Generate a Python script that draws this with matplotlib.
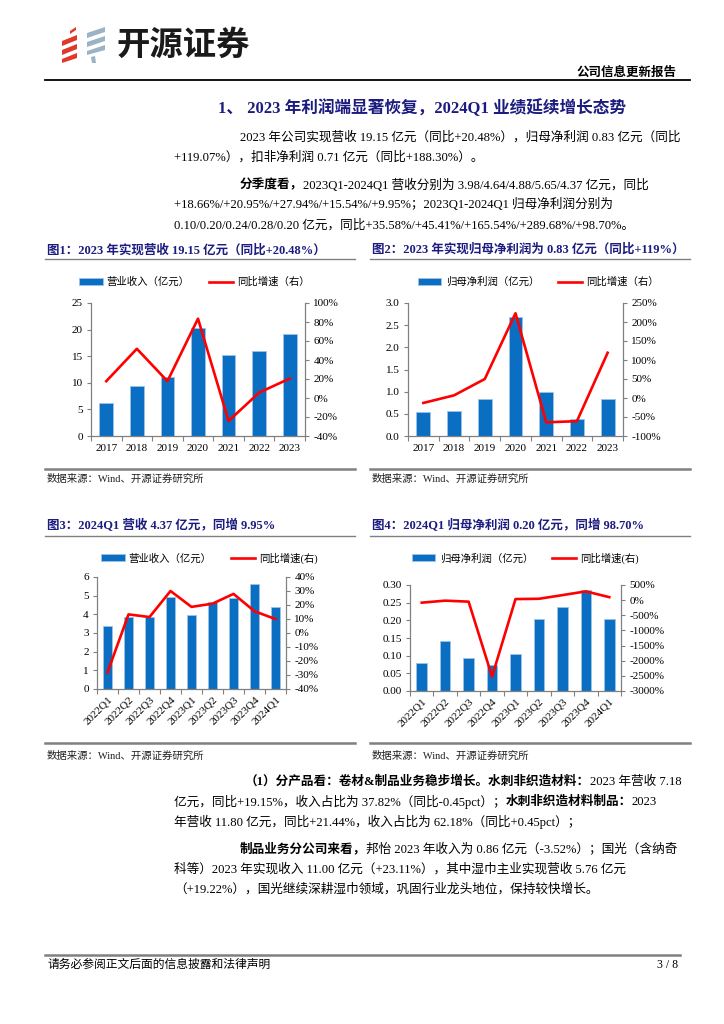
import numpy as np
import matplotlib
matplotlib.use("Agg")
import matplotlib.pyplot as plt
from matplotlib.lines import Line2D
from matplotlib.patches import Patch, Polygon

plt.rcParams['font.family'] = ['Liberation Serif', 'Noto Sans CJK SC']
plt.rcParams['axes.unicode_minus'] = False

# ---------------- data ----------------
years = ['2017', '2018', '2019', '2020', '2021', '2022', '2023']
rev_annual = [6.28, 9.49, 11.06, 20.3, 15.3, 15.95, 19.15]
rev_annual_yoy = [17.7, 51.8, 17.7, 83.5, -24.2, 5.7, 20.48]
np_annual = [0.535, 0.573, 0.844, 2.68, 0.987, 0.39, 0.83]
np_annual_yoy = [-13, 7, 50, 223, -64, -61, 119]

quarters = ['2022Q1', '2022Q2', '2022Q3', '2022Q4', '2023Q1',
            '2023Q2', '2023Q3', '2023Q4', '2024Q1']
rev_q = [3.37, 3.87, 3.84, 4.93, 3.98, 4.64, 4.88, 5.65, 4.37]
rev_q_yoy = [-28.2, 13.3, 11.4, 30.0, 18.66, 20.95, 27.94, 15.54, 9.95]
np_q = [0.078, 0.141, 0.092, 0.075, 0.104, 0.203, 0.238, 0.285, 0.205]
np_q_yoy = [-83, -17, -50, -2525, 35.58, 45.41, 165.54, 289.68, 98.70]

# ---------------- styles ----------------
W, H = 724, 1024
FAM = ['Liberation Serif', 'Noto Sans CJK SC']
NAVY = '#1c1c80'
BLUE = '#0a6fc2'
BLUE_EDGE = '#9dc3e6'
RED = '#ff0000'
AXC = '#808080'
BODY = 9.1

fig = plt.figure(figsize=(W / 100, H / 100), dpi=100)
renderer = fig.canvas.get_renderer()


def fx(x):
    return x / W


def fy(y):
    return 1 - y / H


def hline(y, x0, x1, color, lw):
    fig.add_artist(Line2D([fx(x0), fx(x1)], [fy(y), fy(y)],
                          transform=fig.transFigure, color=color, lw=lw))


def poly(pts, color):
    fig.add_artist(Polygon([(fx(a), fy(b)) for a, b in pts], closed=True,
                           transform=fig.transFigure, facecolor=color,
                           edgecolor='none'))


def adv(text, size, weight):
    t1 = fig.text(0, 0, text + 'H', fontsize=size, fontweight=weight, family=FAM)
    t2 = fig.text(0, 0, 'H', fontsize=size, fontweight=weight, family=FAM)
    w = t1.get_window_extent(renderer).width - t2.get_window_extent(renderer).width
    t1.remove()
    t2.remove()
    return w


def seg_line(x, y, segs, size=BODY, color='black'):
    for txt, bold in segs:
        w = 'bold' if bold else 'normal'
        fig.text(fx(x), fy(y), txt, fontsize=size, fontweight=w, family=FAM,
                 color=color, ha='left', va='center')
        x += adv(txt, size, w)


# ---------------- header ----------------
red = '#e0392b'
grey_blue = '#9ab4c6'
poly([(70, 31), (76, 27), (76, 30), (70, 34)], red)
poly([(62, 41), (77, 35), (77, 40), (62, 46)], red)
poly([(62, 50), (77, 44), (77, 49), (62, 55)], red)
poly([(62, 59), (77, 53), (77, 58), (62, 63)], red)
poly([(87, 33), (105, 27), (105, 32), (87, 38)], grey_blue)
poly([(87, 42), (105, 36), (105, 41), (87, 47)], grey_blue)
poly([(87, 51), (105, 45), (105, 50), (87, 55)], grey_blue)
poly([(91, 57), (95, 56), (96, 63), (92, 63)], grey_blue)
fig.text(fx(117), fy(45), '开源证券', fontsize=24, fontweight='bold',
         family=['Noto Sans CJK SC'], color='#1a1a1a', ha='left', va='center')
fig.text(fx(677), fy(73), '公司信息更新报告', fontsize=9, fontweight='bold',
         family=FAM, ha='right', va='center')
hline(80, 45, 690, 'black', 1.3)

# ---------------- section title and text ----------------
fig.text(fx(218), fy(108), '1、 2023 年利润端显著恢复，2024Q1 业绩延续增长态势',
         fontsize=12, fontweight='bold', family=FAM, color=NAVY,
         ha='left', va='center')

seg_line(240, 137, [('2023 年公司实现营收 19.15 亿元（同比+20.48%），归母净利润 0.83 亿元（同比', False)])
seg_line(174, 157, [('+119.07%），扣非净利润 0.71 亿元（同比+188.30%）。', False)])
seg_line(240, 185, [('分季度看，', True),
                    ('2023Q1-2024Q1 营收分别为 3.98/4.64/4.88/5.65/4.37 亿元，同比', False)])
seg_line(174, 205, [('+18.66%/+20.95%/+27.94%/+15.54%/+9.95%；2023Q1-2024Q1 归母净利润分别为', False)])
seg_line(174, 225, [('0.10/0.20/0.24/0.28/0.20 亿元，同比+35.58%/+45.41%/+165.54%/+289.68%/+98.70%。', False)])


# ---------------- charts ----------------
def make_chart(box, cats, bars, growth, ylim, yticks, yfmt, rylim, ryticks,
               labels, leg_cx, leg_y, rotate):
    l, r, t, b = box
    ax = fig.add_axes([fx(l), fy(b), (r - l) / W, (b - t) / H])
    x = np.arange(len(cats))
    ax.bar(x, bars, width=0.45, color=BLUE, edgecolor=BLUE_EDGE, lw=0.6, zorder=2)
    ax.set_xlim(-0.5, len(cats) - 0.5)
    ax.set_ylim(*ylim)
    ax.set_yticks(yticks)
    ax.set_yticklabels([yfmt.format(v) for v in yticks])
    ax.set_xticks(x)
    ax.set_xticks(np.arange(len(cats) + 1) - 0.5, minor=True)
    ax.tick_params(axis='x', which='major', length=0, pad=4 if rotate else 6,
                   labelsize=8)
    ax.tick_params(axis='x', which='minor', length=3.5, color=AXC, width=0.8)
    ax.tick_params(axis='y', length=3, color=AXC, width=0.8, labelsize=8, pad=3)
    if rotate:
        ax.set_xticklabels(cats, rotation=45, ha='right', va='top',
                           rotation_mode='anchor')
    else:
        ax.set_xticklabels(cats)
    for s in ['top', 'right']:
        ax.spines[s].set_visible(False)
    for s in ['left', 'bottom']:
        ax.spines[s].set_color(AXC)
        ax.spines[s].set_linewidth(0.9)

    ax2 = ax.twinx()
    ax2.plot(x, growth, color=RED, lw=1.9, zorder=3)
    ax2.set_ylim(*rylim)
    ax2.set_yticks(ryticks)
    ax2.set_yticklabels(['{:d}%'.format(int(v)) for v in ryticks])
    ax2.tick_params(axis='y', length=3, color=AXC, width=0.8, labelsize=8, pad=3)
    for s in ['top', 'left', 'bottom']:
        ax2.spines[s].set_visible(False)
    ax2.spines['right'].set_color(AXC)
    ax2.spines['right'].set_linewidth(0.9)

    handles = [Patch(facecolor=BLUE, edgecolor=BLUE_EDGE, lw=0.6),
               Line2D([0], [0], color=RED, lw=1.9)]
    ax.legend(handles, labels, loc='center', ncol=2, frameon=False,
              bbox_to_anchor=(fx(leg_cx), fy(leg_y)),
              bbox_transform=fig.transFigure, fontsize=7.5,
              handlelength=2.3, handleheight=0.6, handletextpad=0.4,
              columnspacing=1.8, borderpad=0, borderaxespad=0)
    return ax


def chart_frame(x0, x1, title, ty, line_y, src_line_y, src_y):
    fig.text(fx(x0 + 2), fy(ty), title, fontsize=9, fontweight='bold',
             family=FAM, color=NAVY, ha='left', va='center')
    hline(line_y, x0, x1, AXC, 1.0)
    hline(src_line_y, x0, x1, AXC, 1.8)
    fig.text(fx(x0 + 2), fy(src_y), '数据来源：Wind、开源证券研究所', fontsize=7.5,
             family=FAM, color='#222222', ha='left', va='center')


chart_frame(45, 355, '图1：2023 年实现营收 19.15 亿元（同比+20.48%）', 250, 259, 469, 479)
chart_frame(370, 690, '图2：2023 年实现归母净利润为 0.83 亿元（同比+119%）', 250, 259, 469, 479)
chart_frame(45, 355, '图3：2024Q1 营收 4.37 亿元，同增 9.95%', 526, 536, 743, 756)
chart_frame(370, 690, '图4：2024Q1 归母净利润 0.20 亿元，同增 98.70%', 526, 536, 743, 756)

make_chart((91, 305, 303, 436), years, rev_annual, rev_annual_yoy,
           (0, 25), list(range(0, 26, 5)), '{:d}',
           (-40, 100), list(range(-40, 101, 20)),
           ['营业收入（亿元）', '同比增速（右）'], 194, 282, False)

make_chart((408, 623, 303, 436), years, np_annual, np_annual_yoy,
           (0, 3.0), [0.0, 0.5, 1.0, 1.5, 2.0, 2.5, 3.0], '{:.1f}',
           (-100, 250), list(range(-100, 251, 50)),
           ['归母净利润（亿元）', '同比增速（右）'], 538, 282, False)

make_chart((97, 286, 577, 689), quarters, rev_q, rev_q_yoy,
           (0, 6), list(range(0, 7)), '{:d}',
           (-40, 40), list(range(-40, 41, 10)),
           ['营业收入（亿元）', '同比增速(右)'], 209, 558, True)

make_chart((410, 621, 585, 691), quarters, np_q, np_q_yoy,
           (0, 0.30), [0.0, 0.05, 0.10, 0.15, 0.20, 0.25, 0.30], '{:.2f}',
           (-3000, 500), list(range(-3000, 501, 500)),
           ['归母净利润（亿元）', '同比增速(右)'], 525, 558, True)

# ---------------- lower text ----------------
seg_line(245, 782, [('（1）分产品看：卷材&制品业务稳步增长。水刺非织造材料：', True),
                    ('2023 年营收 7.18', False)])
seg_line(174, 802, [('亿元，同比+19.15%，收入占比为 37.82%（同比-0.45pct）；', False),
                    ('水刺非织造材料制品：', True), ('2023', False)])
seg_line(174, 822, [('年营收 11.80 亿元，同比+21.44%，收入占比为 62.18%（同比+0.45pct）；', False)])
seg_line(240, 849, [('制品业务分公司来看，', True),
                    ('邦怡 2023 年收入为 0.86 亿元（-3.52%）；国光（含纳奇', False)])
seg_line(174, 869, [('科等）2023 年实现收入 11.00 亿元（+23.11%），其中湿巾主业实现营收 5.76 亿元', False)])
seg_line(174, 889, [('（+19.22%），国光继续深耕湿巾领域，巩固行业龙头地位，保持较快增长。', False)])

# ---------------- footer ----------------
hline(955, 45, 680, AXC, 1.8)
fig.text(fx(47), fy(965), '请务必参阅正文后面的信息披露和法律声明', fontsize=8.5,
         family=FAM, ha='left', va='center')
fig.text(fx(678), fy(965), '3 / 8', fontsize=8.5, family=FAM, ha='right', va='center')

fig.savefig('out.png', dpi=100)
